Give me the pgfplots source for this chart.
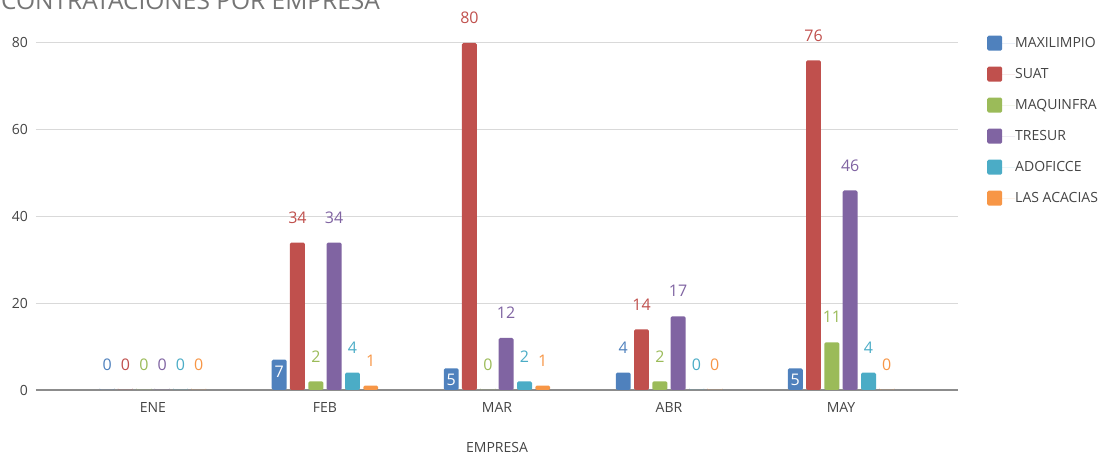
\documentclass[border=0pt]{standalone}
\usepackage{pgfplots}
\pgfplotsset{compat=1.18}
\usepackage{fontspec}
\setmainfont{Open Sans}
\newfontfamily\lblfamily{Open Sans}
\newcommand{\lbl}{\lblfamily\fontsize{16}{16}\selectfont}
\definecolor{cMax}{HTML}{4F81BD}
\definecolor{cSua}{HTML}{C0504D}
\definecolor{cMaq}{HTML}{9BBB59}
\definecolor{cTre}{HTML}{8064A2}
\definecolor{cAdo}{HTML}{4BACC6}
\definecolor{cAca}{HTML}{F79646}
\definecolor{gridgray}{HTML}{D9D9D9}
\definecolor{zerogray}{HTML}{8C8C8C}
\definecolor{tickgray}{HTML}{444444}
\definecolor{titlegray}{HTML}{757575}
\begin{document}
\begin{tikzpicture}
\useasboundingbox (-36pt,-67pt) rectangle (1068pt,390pt);
\begin{axis}[
  at={(0pt,0pt)}, anchor=south west,
  scale only axis, width=922pt, height=368.7pt,
  xmin=-0.68, xmax=4.68, ymin=0, ymax=85,
  clip=false,
  ybar, bar width=0.087,
  axis line style={draw=none},
  major tick length=0pt,
  xtick={0,1,2,3,4}, xticklabels={ENE,FEB,MAR,ABR,MAY},
  ytick={20,40,60,80},
  extra y ticks={0},
  extra y tick style={grid style={color=zerogray, line width=1.6pt}},
  ymajorgrids,
  grid style={color=gridgray, line width=1pt},
  /pgf/number format/assume math mode=true,
  tick label style={font=\fontsize{14}{14}\selectfont, text=tickgray, inner sep=0pt},
  yticklabel style={anchor=east, xshift=-8pt},
  xticklabel style={anchor=north, yshift=-12pt},
  xlabel={EMPRESA},
  xlabel style={at={(axis description cs:0.5,0)}, anchor=center, yshift=-58pt, font=\fontsize{14}{14}\selectfont, text=tickgray, inner sep=0pt},
  title={CONTRATACIONES POR EMPRESA},
  title style={at={(axis description cs:-0.038,1.017)}, anchor=base west, font=\fontsize{24.5}{24.5}\selectfont, text=titlegray, inner sep=0pt},
  legend style={at={(axis description cs:1.0315,0.9615)}, anchor=north west, draw=none, fill=none, inner sep=0pt, font=\fontsize{14}{14}\selectfont, text=tickgray, row sep=16pt, nodes={inner sep=0pt}},
  legend cell align=left,
  legend image code/.code={\fill[#1] (0pt,-7.5pt) rectangle (15pt,7.5pt); \path (0pt,0pt) -- (28pt,0pt);},
]
\addplot[fill=cMax, draw=none, rounded corners=1.5pt, bar shift=-0.266, nodes near coords, every node near coord/.append style={text=cMax, anchor=center, yshift=25pt, font=\lbl, rounded corners=0pt}] coordinates {(0,0) (3,4)};
\addlegendentry{MAXILIMPIO}
\addplot[forget plot, fill=cMax, draw=none, rounded corners=1.5pt, bar shift=-0.266, nodes near coords, every node near coord/.append style={text=white, anchor=center, yshift=-12pt, font=\lbl, rounded corners=0pt}] coordinates {(1,7) (2,5) (4,5)};
\addplot[fill=cSua, draw=none, rounded corners=1.5pt, bar shift=-0.16, nodes near coords, every node near coord/.append style={text=cSua, anchor=center, yshift=25pt, font=\lbl, rounded corners=0pt}] coordinates {(0,0) (1,34) (2,80) (3,14) (4,76)};
\addlegendentry{SUAT}
\addplot[fill=cMaq, draw=none, rounded corners=1.5pt, bar shift=-0.053, nodes near coords, every node near coord/.append style={text=cMaq, anchor=center, yshift=25pt, font=\lbl, rounded corners=0pt}] coordinates {(0,0) (1,2) (2,0) (3,2) (4,11)};
\addlegendentry{MAQUINFRA}
\addplot[fill=cTre, draw=none, rounded corners=1.5pt, bar shift=0.053, nodes near coords, every node near coord/.append style={text=cTre, anchor=center, yshift=25pt, font=\lbl, rounded corners=0pt}] coordinates {(0,0) (1,34) (2,12) (3,17) (4,46)};
\addlegendentry{TRESUR}
\addplot[fill=cAdo, draw=none, rounded corners=1.5pt, bar shift=0.16, nodes near coords, every node near coord/.append style={text=cAdo, anchor=center, yshift=25pt, font=\lbl, rounded corners=0pt}] coordinates {(0,0) (1,4) (2,2) (3,0) (4,4)};
\addlegendentry{ADOFICCE}
\addplot[fill=cAca, draw=none, rounded corners=1.5pt, bar shift=0.266, nodes near coords, every node near coord/.append style={text=cAca, anchor=center, yshift=25pt, font=\lbl, rounded corners=0pt}] coordinates {(0,0) (1,1) (2,1) (3,0) (4,0)};
\addlegendentry{LAS ACACIAS}
\end{axis}
\end{tikzpicture}
\end{document}
